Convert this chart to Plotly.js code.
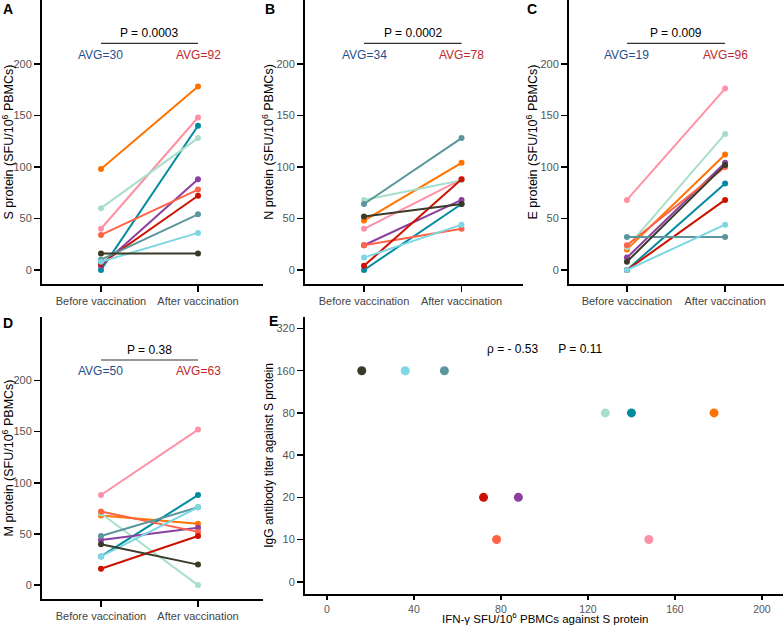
<!DOCTYPE html>
<html>
<head>
<meta charset="utf-8">
<script src="https://cdn.plot.ly/plotly-3.0.1.min.js"></script>
<style>html,body{margin:0;padding:0;background:#fff}#chart{width:784px;height:626px}</style>
</head>
<body>
<div id="chart"></div>
<script>
// ---- data ----
var subjectColors = ['#FF7300', '#FF91A6', '#008B9E', '#A8DFCB', '#8B3F9E', '#FF6347', '#CC1100', '#5B969C', '#7DD6E3', '#3B3A28'];
var timepoints = ['Before vaccination', 'After vaccination'];
var S_before = [98, 40, 0, 60, 4, 34, 6, 10, 8, 16];
var S_after  = [178, 148, 140, 128, 88, 78, 72, 54, 36, 16];
var N_before = [48, 40, 0, 68, 24, 24, 4, 64, 12, 52];
var N_after  = [104, 88, 64, 87, 68, 40, 88, 128, 44, 64];
var E_before = [20, 68, 0, 22, 12, 24, 0, 32, 0, 8];
var E_after  = [112, 176, 84, 132, 104, 100, 68, 32, 44, 102];
var M_before = [68, 88, 28, 70, 44, 72, 16, 48, 28, 40];
var M_after  = [60, 152, 88, 0, 56, 52, 48, 76, 76, 20];
var igg_titer = [80, 10, 80, 80, 20, 10, 20, 160, 160, 160];
var titer_levels = [0, 10, 20, 40, 80, 160, 320];
var pValues = ['P = 0.0003', 'P = 0.0002', 'P = 0.009', 'P = 0.38'];
var avgBefore = ['AVG=30', 'AVG=34', 'AVG=19', 'AVG=50'];
var avgAfter = ['AVG=92', 'AVG=78', 'AVG=96', 'AVG=63'];
var yTitles = ['S protein (SFU/10<sup>6</sup> PBMCs)', 'N protein (SFU/10<sup>6</sup> PBMCs)',
               'E protein (SFU/10<sup>6</sup> PBMCs)', 'M protein (SFU/10<sup>6</sup> PBMCs)'];
var panelLetters = ['A', 'B', 'C', 'D', 'E'];
var corrText = 'ρ = - 0.53\u00A0\u00A0\u00A0\u00A0\u00A0 P = 0.11';
var eXTitle = 'IFN-γ SFU/10<sup>6</sup> PBMCs against S protein';
var eYTitle = 'IgG antibody titer against S protein';

// ---- build ----
var FONT = 'Arial, "Liberation Sans", sans-serif';
var W = 784, H = 626;
function px(x) { return x / W; }
function py(y) { return 1 - y / H; }

var pairs = [[S_before, S_after], [N_before, N_after], [E_before, E_after], [M_before, M_after]];
var traces = [];
pairs.forEach(function (p, k) {
  var ax = k === 0 ? '' : String(k + 1);
  for (var i = 0; i < subjectColors.length; i++) {
    traces.push({
      type: 'scatter', mode: 'lines+markers',
      x: [0, 1], y: [p[0][i], p[1][i]],
      xaxis: 'x' + ax, yaxis: 'y' + ax,
      line: {color: subjectColors[i], width: 2},
      marker: {color: subjectColors[i], size: 6},
      showlegend: false, hoverinfo: 'skip'
    });
  }
});
traces.push({
  type: 'scatter', mode: 'markers',
  x: S_after,
  y: igg_titer.map(function (t) { return titer_levels.indexOf(t); }),
  xaxis: 'x5', yaxis: 'y5',
  marker: {color: subjectColors, size: 9},
  showlegend: false, hoverinfo: 'skip'
});

var axBase = {
  showline: true, linewidth: 2, linecolor: '#000',
  ticks: 'outside', ticklen: 6, tickwidth: 1.5, tickcolor: '#000',
  showgrid: false, zeroline: false, fixedrange: true,
  tickfont: {family: FONT, size: 11, color: '#555'}
};
function mk(o) { var r = {}; for (var k in axBase) r[k] = axBase[k]; for (var k2 in o) r[k2] = o[k2]; return r; }

var panels = [
  {xd: [42, 263], yd: [0, 284], xr: [-0.608, 1.67]},
  {xd: [305, 523], yd: [0, 284], xr: [-0.605, 1.63]},
  {xd: [569, 784], yd: [0, 284], xr: [-0.59, 1.60]},
  {xd: [42, 263], yd: [317, 599], xr: [-0.608, 1.67]}
];

var layout = {
  width: W, height: H, margin: {l: 0, r: 0, t: 0, b: 0},
  paper_bgcolor: '#fff', plot_bgcolor: 'rgba(0,0,0,0)',
  font: {family: FONT, size: 11, color: '#000'},
  showlegend: false, annotations: [], shapes: []
};

panels.forEach(function (pn, k) {
  var s = k === 0 ? '' : String(k + 1);
  layout['xaxis' + s] = mk({
    domain: [px(pn.xd[0]), px(pn.xd[1])], range: pn.xr, anchor: 'y' + s,
    tickvals: [0, 1], ticktext: timepoints,
    tickfont: {family: FONT, size: 11, color: '#444'}
  });
  layout['yaxis' + s] = mk({
    domain: [py(pn.yd[1]), py(pn.yd[0])], range: [-13.6, 262], anchor: 'x' + s,
    tickvals: [0, 50, 100, 150, 200],
    title: {text: yTitles[k], font: {family: FONT, size: 12.5, color: '#000'}, standoff: 0}
  });
  var xr = 'x' + s, yr = 'y' + s;
  layout.shapes.push({type: 'line', xref: xr, yref: yr, x0: 0, x1: 1, y0: 220, y1: 220,
    line: {color: '#333', width: 1.2}});
  layout.annotations.push({xref: xr, yref: yr, x: 0.5, y: 230, text: pValues[k], showarrow: false,
    xanchor: 'center', yanchor: 'middle', font: {family: FONT, size: 12, color: '#000'}});
  layout.annotations.push({xref: xr, yref: yr, x: 0, y: 209, text: avgBefore[k], showarrow: false,
    xanchor: 'center', yanchor: 'middle', font: {family: FONT, size: 12, color: '#1F4E8C'}});
  layout.annotations.push({xref: xr, yref: yr, x: 1, y: 209, text: avgAfter[k], showarrow: false,
    xanchor: 'center', yanchor: 'middle', font: {family: FONT, size: 12, color: '#C0272D'}});
});

layout.xaxis5 = mk({
  domain: [px(305), px(783)], range: [-10.1, 209.7], anchor: 'y5',
  ticklen: 4, tickvals: [0, 40, 80, 120, 160, 200],
  tickfont: {family: FONT, size: 10.5, color: '#555'}
});
layout.yaxis5 = mk({
  domain: [py(594), py(316.7)], range: [-0.29, 6.28], anchor: 'x5',
  tickvals: titer_levels.map(function (v, i) { return i; }), ticktext: titer_levels.map(String),
  title: {text: eYTitle, font: {family: FONT, size: 12, color: '#000'}, standoff: 0}
});
layout.annotations.push({xref: 'paper', yref: 'paper', x: px(545), y: 0,
  xanchor: 'center', yanchor: 'bottom', borderpad: 0,
  text: eXTitle, showarrow: false, font: {family: FONT, size: 11.5, color: '#000'}});
layout.annotations.push({xref: 'paper', yref: 'paper', x: px(544), y: py(349),
  xanchor: 'center', yanchor: 'middle',
  text: corrText, showarrow: false, font: {family: FONT, size: 12, color: '#000'}});

var letterPos = [[8, 9], [270, 9], [532, 9], [8, 323], [273, 321]];
letterPos.forEach(function (p, i) {
  layout.annotations.push({xref: 'paper', yref: 'paper', x: px(p[0]), y: py(p[1]),
    xanchor: 'center', yanchor: 'middle',
    text: '<b>' + panelLetters[i] + '</b>', showarrow: false,
    font: {family: FONT, size: 14, color: '#000'}});
});

Plotly.newPlot('chart', traces, layout, {displayModeBar: false, staticPlot: true});
</script>
</body>
</html>
